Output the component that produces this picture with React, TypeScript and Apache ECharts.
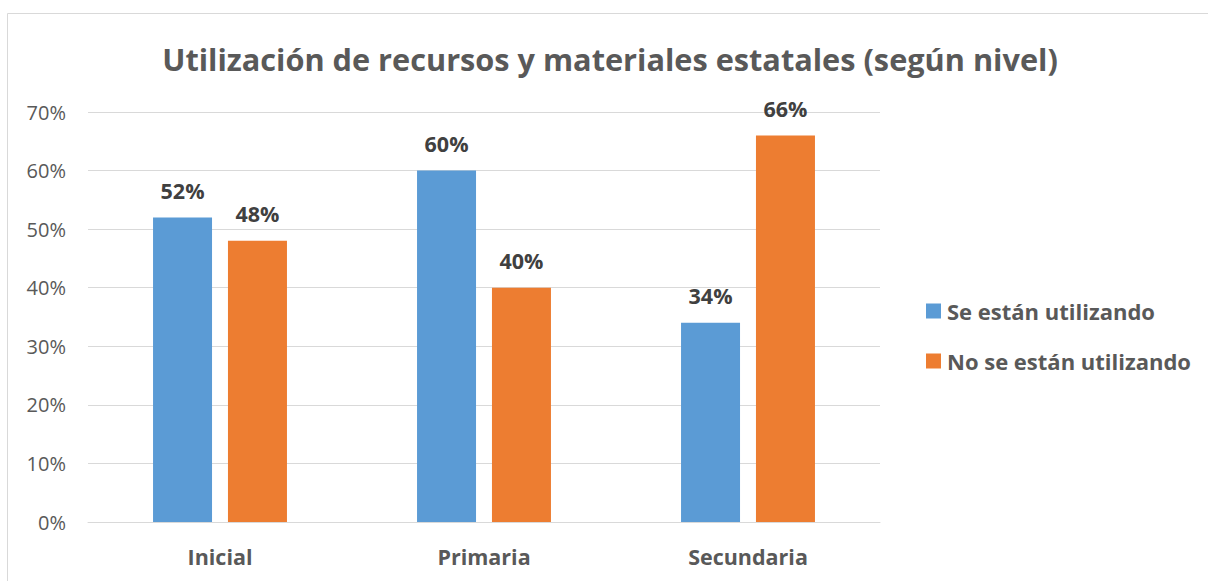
import React, { useEffect, useRef } from "react";
import * as echarts from "echarts";

const categories = ["Inicial", "Primaria", "Secundaria"];
const seriesNames = ["Se están utilizando", "No se están utilizando"];
const usingValues = [52, 60, 34];
const notUsingValues = [48, 40, 66];
const yTicks = [0, 10, 20, 30, 40, 50, 60, 70];

const FONT = "'Open Sans', 'Noto Sans', sans-serif";
const GRAY = "#595959";

export default function App() {
  const ref = useRef<HTMLDivElement>(null);
  useEffect(() => {
    document.body.style.margin = "0";
    const chart = echarts.init(ref.current!, null, { renderer: "svg" });
    const dataLabel = {
      show: true,
      position: "top",
      distance: 16,
      formatter: "{c}%",
      fontFamily: FONT,
      fontSize: 21.5,
      fontWeight: "bold",
      color: "#404040",
    };
    chart.setOption({
      animation: false,
      backgroundColor: "#ffffff",
      textStyle: { fontFamily: FONT },
      title: {
        text: "Utilización de recursos y materiales estatales (según nivel)",
        left: 605,
        textAlign: "center",
        top: 38,
        textStyle: { fontFamily: FONT, fontSize: 30.7, fontWeight: "bold", color: GRAY },
      },
      graphic: [
        {
          type: "rect",
          shape: { x: 7.5, y: 13.5, width: 1400, height: 800 },
          style: { fill: "none", stroke: "#d9d9d9", lineWidth: 1 },
          silent: true,
          z: -1,
        },
      ],
      legend: {
        orient: "vertical",
        left: 921,
        top: 295,
        itemWidth: 15,
        itemHeight: 15,
        itemGap: 28,
        icon: "rect",
        textStyle: { fontFamily: FONT, fontSize: 22, fontWeight: "bold", color: GRAY, padding: [0, 0, 0, 1] },
        data: seriesNames,
      },
      grid: { left: 88, right: 328, top: 112, bottom: 59, containLabel: false },
      xAxis: {
        type: "category",
        data: categories,
        axisLine: { lineStyle: { color: "#d9d9d9", width: 1 } },
        axisTick: { show: false },
        axisLabel: { fontFamily: FONT, fontSize: 21.5, fontWeight: "bold", color: GRAY, margin: 23 },
      },
      yAxis: {
        type: "value",
        min: yTicks[0],
        max: yTicks[yTicks.length - 1],
        interval: 10,
        axisLine: { show: false },
        axisTick: { show: false },
        splitLine: { lineStyle: { color: "#d9d9d9", width: 1 } },
        axisLabel: { fontFamily: FONT, fontSize: 20, color: GRAY, margin: 22, formatter: "{value}%" },
      },
      series: [
        {
          name: seriesNames[0],
          type: "bar",
          data: usingValues,
          barWidth: 59,
          barGap: "27%",
          itemStyle: { color: "#5B9BD5" },
          label: dataLabel,
        },
        {
          name: seriesNames[1],
          type: "bar",
          data: notUsingValues,
          barWidth: 59,
          barGap: "27%",
          itemStyle: { color: "#ED7D31" },
          label: dataLabel,
        },
      ],
    });
    return () => chart.dispose();
  }, []);
  return <div ref={ref} style={{ width: 1208, height: 581 }} />;
}
